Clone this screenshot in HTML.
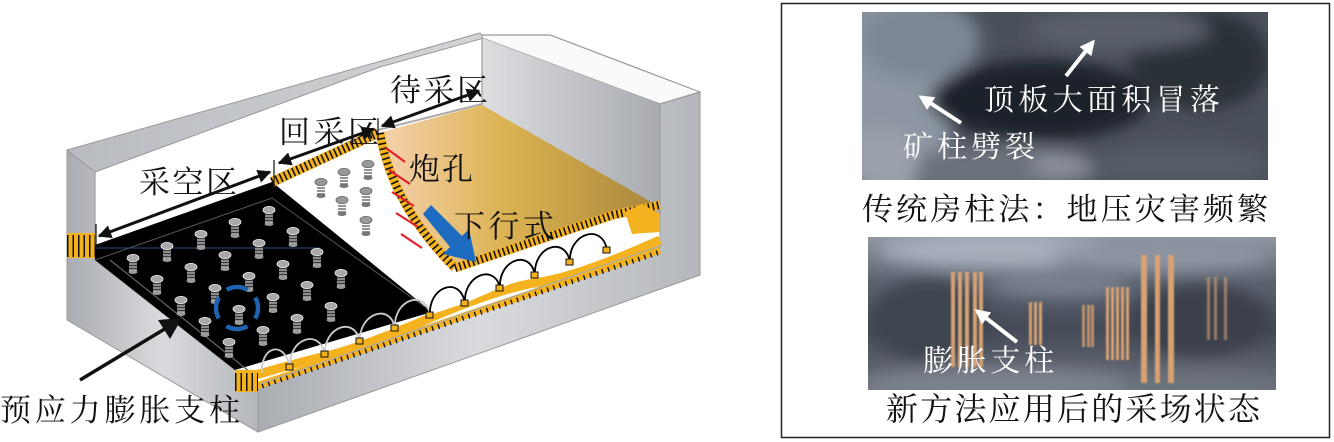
<!DOCTYPE html>
<html><head><meta charset="utf-8"><style>
html,body{margin:0;padding:0;background:#fff;}
svg{display:block;}
text{font-family:"Liberation Serif","Noto Serif CJK SC","Noto Sans CJK SC",serif;}
</style></head><body>
<svg width="1334" height="442" viewBox="0 0 1334 442" xmlns="http://www.w3.org/2000/svg">
<defs>
<linearGradient id="gw" x1="0" y1="0" x2="1" y2="0"><stop offset="0" stop-color="#a9acb1"/><stop offset="0.5" stop-color="#d9dbde"/><stop offset="1" stop-color="#b4b7bb"/></linearGradient>
<linearGradient id="gr" x1="0" y1="0" x2="1" y2="0"><stop offset="0" stop-color="#dcdee1"/><stop offset="1" stop-color="#a8abb0"/></linearGradient>
<linearGradient id="gt" x1="0" y1="0" x2="1" y2="0"><stop offset="0" stop-color="#b8bbbf"/><stop offset="1" stop-color="#d3d5d8"/></linearGradient>
<linearGradient id="gold" x1="0" y1="0" x2="1" y2="0"><stop offset="0" stop-color="#f6d2b0"/><stop offset="0.45" stop-color="#dcb352"/><stop offset="1" stop-color="#a8873a"/></linearGradient>
<linearGradient id="ph2" x1="0" y1="0" x2="0" y2="1"><stop offset="0" stop-color="#8f96a3"/><stop offset="0.3" stop-color="#5c6370"/><stop offset="0.6" stop-color="#444a56"/><stop offset="1" stop-color="#6a707a"/></linearGradient>
<filter id="bl" x="-20%" y="-20%" width="140%" height="140%"><feGaussianBlur stdDeviation="8"/></filter>
<filter id="bl2"><feGaussianBlur stdDeviation="0.8"/></filter>
<clipPath id="c1"><rect x="862" y="12" width="406" height="168"/></clipPath>
<clipPath id="c2"><rect x="868" y="237" width="408" height="153"/></clipPath>
<marker id="ah" viewBox="0 0 10 10" refX="9" refY="5" markerWidth="4.5" markerHeight="4.5" orient="auto-start-reverse"><path d="M0,0 L10,5 L0,10 z" fill="#111"/></marker>
<marker id="wh" viewBox="0 0 10 10" refX="8" refY="5" markerWidth="3.8" markerHeight="3.8" orient="auto"><path d="M0,0 L10,5 L0,10 z" fill="#fff"/></marker>
<g id="p">
<rect x="-4" y="0" width="8" height="14" fill="#3a3a3a"/>
<path d="M-4,3 h8 M-4,6 h8 M-4,9 h8 M-4,12 h8" stroke="#ddd" stroke-width="1.1"/>
<ellipse cx="0" cy="0" rx="6" ry="3.6" fill="#a8a8a8" stroke="#eee" stroke-width="0.8"/>
<ellipse cx="0" cy="14" rx="4.5" ry="2" fill="#999"/>
</g>
<g id="pw">
<rect x="-4" y="0" width="8" height="14" fill="#fff"/>
<path d="M-4,3 h8 M-4,6 h8 M-4,9 h8 M-4,12 h8" stroke="#555" stroke-width="1.3"/>
<ellipse cx="0" cy="0" rx="6" ry="3.6" fill="#999" stroke="#666" stroke-width="0.8"/>
<ellipse cx="0" cy="14" rx="4.5" ry="2" fill="#777"/>
</g>
</defs>

<!-- left wall -->
<polygon points="67,150 95,172 95,260 235,370 258,383 258,432 67,320" fill="url(#gw)" stroke="#999" stroke-width="1"/>
<polygon points="67,150 480,33 484,38 380,67 95,172" fill="url(#gt)" stroke="#999" stroke-width="1"/>
<polygon points="482,35 550,35 700,92 660,104 482,38" fill="#fafafa" stroke="#999" stroke-width="1.2"/>
<polygon points="482,38 660,104 660,230 482,105" fill="url(#gr)"/>
<line x1="482" y1="38" x2="482" y2="105" stroke="#999" stroke-width="1.2"/>
<polygon points="258,383 660,247 660,104 700,92 700,275 258,432" fill="url(#gw)" stroke="#999" stroke-width="1"/>
<line x1="660" y1="104" x2="660" y2="248" stroke="#999" stroke-width="1"/>

<polygon points="272,182 378,133 455,268 650,208 660,240 258,383 235,370" fill="#fff"/>
<path d="M378,133 L482,105 L660,207 L613,215 L455,268 Q410,215 390,170 Z" fill="url(#gold)"/>
<line x1="378" y1="130" x2="482" y2="104" stroke="#aaa" stroke-width="2"/>

<polygon points="95,245 272,182 432,312 235,370 95,260" fill="#000"/>
<polyline points="95,260 272,198 432,312" fill="none" stroke="#555" stroke-width="1"/>
<line x1="95" y1="248" x2="320" y2="248" stroke="#2a4a80" stroke-width="1"/>
<line x1="110" y1="260" x2="250" y2="372" stroke="#666" stroke-width="1.2"/>

<g fill="none">
<path d="M272,182 L378,133" stroke="#f5b21f" stroke-width="10"/>
<path d="M272,182 L378,133" stroke="#111" stroke-width="9" stroke-dasharray="1.6 3"/>
<path d="M380,133 Q392,205 455,268" stroke="#f5b21f" stroke-width="9"/>
<path d="M380,133 Q392,205 455,268" stroke="#111" stroke-width="8" stroke-dasharray="1.6 3.5"/>
<path d="M455,268 L613,215 L660,205" stroke="#f5b21f" stroke-width="9"/>
<path d="M455,268 L613,215 L660,205" stroke="#111" stroke-width="8" stroke-dasharray="1.6 3"/>
<path d="M238,380 Q300,362 330,355 T430,318 T540,282 T660,240" stroke="#f5b21f" stroke-width="9"/>
<path d="M250,388 L660,250" stroke="#f5b21f" stroke-width="7"/>
<path d="M250,390 L660,252" stroke="#111" stroke-width="5" stroke-dasharray="1.4 5"/>
<path d="M260,384 L660,246" stroke="#aaa" stroke-width="1.2"/>
<rect x="67" y="233" width="28" height="25" fill="#f5b21f"/>
<path d="M67,246 H95" stroke="#111" stroke-width="22" stroke-dasharray="1.5 4"/>
<rect x="235" y="370" width="23" height="22" fill="#f5b21f"/>
<path d="M235,382 H258" stroke="#111" stroke-width="18" stroke-dasharray="1.5 4"/>
<path d="M625,212 L642,204 L660,214 L660,232 L632,234 Z" fill="#f5b21f"/>
</g>

<g fill="none" stroke-width="1.8">
<path d="M262,373 c-2,-26 22,-34 28,-6" stroke="#ccc"/>
<path d="M290,367 c-2,-28 30,-40 35,-12" stroke="#ccc"/>
<path d="M325,355 c-2,-28 30,-40 35,-13" stroke="#ccc"/>
<path d="M360,342 c-2,-28 30,-40 35,-14" stroke="#ccc"/>
<path d="M395,328 c-2,-28 30,-40 35,-13" stroke="#ccc"/>
<path d="M430,315 c-2,-28 30,-40 35,-12" stroke="#000" fill="#fff"/>
<path d="M465,303 c-2,-28 30,-40 35,-15" stroke="#000" fill="#fff"/>
<path d="M500,288 c-2,-28 30,-40 35,-13" stroke="#000" fill="#fff"/>
<path d="M535,275 c-2,-28 30,-40 35,-13" stroke="#000" fill="#fff"/>
<path d="M570,262 c-2,-28 32,-40 37,-12" stroke="#000" fill="#fff"/>
</g>
<g fill="#f5b21f" stroke="#111" stroke-width="1">
<rect x="286" y="364" width="7" height="6"/><rect x="321" y="351" width="7" height="6"/><rect x="356" y="338" width="7" height="6"/><rect x="391" y="325" width="7" height="6"/><rect x="426" y="312" width="7" height="6"/><rect x="461" y="300" width="7" height="6"/><rect x="496" y="285" width="7" height="6"/><rect x="531" y="272" width="7" height="6"/><rect x="566" y="259" width="7" height="6"/><rect x="603" y="247" width="7" height="6"/>
</g>

<g>
<use href="#p" x="133" y="258"/><use href="#p" x="167" y="246"/><use href="#p" x="201" y="234"/><use href="#p" x="235" y="222"/><use href="#p" x="269" y="210"/>
<use href="#p" x="157" y="279"/><use href="#p" x="191" y="267"/><use href="#p" x="225" y="255"/><use href="#p" x="259" y="243"/><use href="#p" x="293" y="231"/>
<use href="#p" x="181" y="300"/><use href="#p" x="215" y="288"/><use href="#p" x="249" y="276"/><use href="#p" x="283" y="264"/><use href="#p" x="317" y="252"/>
<use href="#p" x="205" y="321"/><use href="#p" x="239" y="309"/><use href="#p" x="273" y="297"/><use href="#p" x="307" y="285"/><use href="#p" x="341" y="273"/>
<use href="#p" x="229" y="342"/><use href="#p" x="263" y="330"/><use href="#p" x="297" y="318"/><use href="#p" x="331" y="306"/>
</g>
<g>
<use href="#pw" x="321" y="182"/><use href="#pw" x="344" y="172"/><use href="#pw" x="368" y="164"/>
<use href="#pw" x="342" y="200"/><use href="#pw" x="366" y="191"/><use href="#pw" x="366" y="220"/>
</g>
<circle cx="237" cy="308" r="21" fill="none" stroke="#1e62b0" stroke-width="4.5" stroke-dasharray="22 11" transform="rotate(-30 237 308)"/>

<g stroke="#e0202a" stroke-width="2.2">
<line x1="386" y1="148" x2="405" y2="162"/><line x1="389" y1="170" x2="410" y2="184"/><line x1="392" y1="192" x2="414" y2="206"/><line x1="396" y1="213" x2="418" y2="227"/><line x1="401" y1="234" x2="422" y2="248"/>
</g>
<polygon points="423,214 431,205 462,236 469,229 476,262 443,254 450,247" fill="#1e6cc0"/>

<g stroke="#111" stroke-width="3" fill="none">
<line x1="99" y1="236" x2="270" y2="172" marker-start="url(#ah)" marker-end="url(#ah)"/>
<line x1="279" y1="163" x2="374" y2="129" marker-start="url(#ah)" marker-end="url(#ah)"/>
<line x1="382" y1="126" x2="479" y2="91" marker-start="url(#ah)" marker-end="url(#ah)"/>
</g>
<g stroke="#111" stroke-width="1.2">
<line x1="96" y1="224" x2="96" y2="246"/><line x1="274" y1="160" x2="274" y2="184"/><line x1="378" y1="118" x2="378" y2="140"/>
</g>
<line x1="80" y1="380" x2="168" y2="327" stroke="#111" stroke-width="3.5"/>
<polygon points="182,318 158,320 170,339" fill="#111"/>

<g font-size="31" fill="#111">
<text x="390" y="101" textLength="98" lengthAdjust="spacing">待采区</text>
<text x="279" y="143" textLength="100" lengthAdjust="spacing">回采区</text>
<text x="139" y="193" textLength="98" lengthAdjust="spacing">采空区</text>
<text x="409" y="180" textLength="64" lengthAdjust="spacing">炮孔</text>
<text x="454" y="237" textLength="100" lengthAdjust="spacing">下行式</text>
<text x="0" y="421" textLength="240" lengthAdjust="spacing">预应力膨胀支柱</text>
</g>

<rect x="781.5" y="3.5" width="548" height="434" fill="#fff" stroke="#222" stroke-width="1.5"/>

<g clip-path="url(#c1)">
<rect x="862" y="12" width="406" height="168" fill="#4b515c"/>
<g filter="url(#bl)">
<ellipse cx="895" cy="90" rx="60" ry="110" fill="#8d96a2"/>
<ellipse cx="920" cy="40" rx="60" ry="40" fill="#7e8794"/>
<ellipse cx="1040" cy="100" rx="110" ry="40" fill="#1f232b"/>
<ellipse cx="1200" cy="60" rx="70" ry="50" fill="#2b3039"/>
<ellipse cx="1120" cy="30" rx="90" ry="20" fill="#5a606b"/>
<ellipse cx="1000" cy="170" rx="100" ry="25" fill="#6c727c"/>
<ellipse cx="1180" cy="165" rx="90" ry="22" fill="#555b65"/>
<ellipse cx="880" cy="160" rx="40" ry="30" fill="#9aa1ab"/>
<ellipse cx="1060" cy="165" rx="30" ry="12" fill="#8a909a"/>
</g>
</g>
<line x1="1066" y1="76" x2="1093" y2="42" stroke="#fff" stroke-width="4" marker-end="url(#wh)"/>
<line x1="961" y1="123" x2="921" y2="97" stroke="#fff" stroke-width="4" marker-end="url(#wh)"/>
<text x="984" y="110" font-size="30" fill="#fff" textLength="236" lengthAdjust="spacing">顶板大面积冒落</text>
<text x="903" y="157" font-size="30" fill="#fff" textLength="132" lengthAdjust="spacing">矿柱劈裂</text>
<text x="862" y="220" font-size="31" fill="#111" textLength="406" lengthAdjust="spacing">传统房柱法：地压灾害频繁</text>

<g clip-path="url(#c2)">
<rect x="868" y="237" width="408" height="153" fill="url(#ph2)"/>
<g filter="url(#bl)">
<ellipse cx="1000" cy="250" rx="120" ry="18" fill="#a8afbb"/>
<ellipse cx="1160" cy="255" rx="110" ry="15" fill="#8e95a2"/>
<ellipse cx="1060" cy="285" rx="70" ry="12" fill="#7a8190"/>
<ellipse cx="930" cy="320" rx="60" ry="40" fill="#3e4450"/>
<ellipse cx="1200" cy="320" rx="70" ry="35" fill="#3a404b"/>
<ellipse cx="1000" cy="385" rx="140" ry="18" fill="#7c828c"/>
<ellipse cx="1200" cy="385" rx="80" ry="14" fill="#6d737d"/>
</g>
<g fill="#d7a273" filter="url(#bl2)">
<rect x="951" y="272" width="4" height="95"/><rect x="958" y="272" width="4" height="95"/><rect x="965" y="272" width="4" height="95"/><rect x="973" y="272" width="4" height="95"/><rect x="979" y="272" width="4" height="95"/>
<rect x="1029" y="302" width="3" height="43"/><rect x="1034" y="302" width="3" height="43"/><rect x="1039" y="302" width="3" height="43"/>
<rect x="1082" y="305" width="3" height="42" opacity="0.8"/><rect x="1087" y="305" width="3" height="42" opacity="0.8"/><rect x="1091" y="305" width="3" height="42" opacity="0.8"/>
<rect x="1106" y="287" width="3" height="73"/><rect x="1111" y="287" width="3" height="73"/><rect x="1116" y="287" width="3" height="73"/><rect x="1121" y="287" width="3" height="73"/><rect x="1126" y="287" width="3" height="73"/>
<rect x="1141" y="255" width="6" height="128"/><rect x="1155" y="255" width="5" height="128"/><rect x="1168" y="255" width="6" height="128"/>
<rect x="1207" y="277" width="3" height="63" opacity="0.6"/><rect x="1214" y="277" width="3" height="63" opacity="0.6"/><rect x="1224" y="277" width="3" height="63" opacity="0.6"/>
</g>
</g>
<line x1="1017" y1="342" x2="977" y2="311" stroke="#fff" stroke-width="4" marker-end="url(#wh)"/>
<text x="923" y="371" font-size="30" fill="#fff" textLength="131" lengthAdjust="spacing">膨胀支柱</text>
<text x="886" y="420" font-size="32" fill="#111" textLength="374" lengthAdjust="spacing">新方法应用后的采场状态</text>
</svg>
</body></html>
